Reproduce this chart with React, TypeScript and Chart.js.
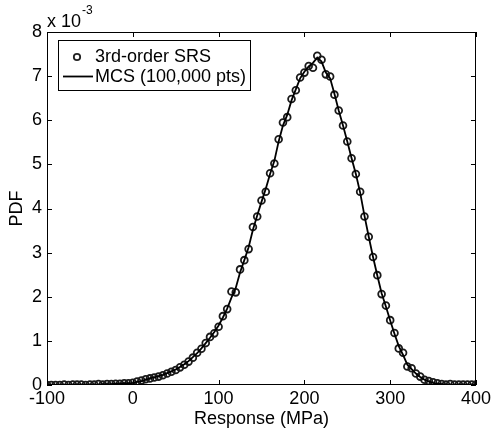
import React, { useEffect, useRef } from "react";
import { Chart, registerables } from "chart.js";

Chart.register(...registerables);

// Response values (MPa)
const xValues = [
  -100, -95, -90, -85, -80, -75, -70, -65, -60, -55, -50, -45, -40, -35, -30, -25, -20, -15, -10, -5,
  0, 5, 10, 15, 20, 25, 30, 35, 40, 45, 50, 55, 60, 65, 70, 75, 80, 85, 90, 95,
  100, 105, 110, 115, 120, 125, 130, 135, 140, 145, 150, 155, 160, 165, 170, 175, 180, 185, 190, 195,
  200, 205, 210, 215, 220, 225, 230, 235, 240, 245, 250, 255, 260, 265, 270, 275, 280, 285, 290, 295,
  300, 305, 310, 315, 320, 325, 330, 335, 340, 345, 350, 355, 360, 365, 370, 375, 380, 385, 390, 395, 400,
];

// 3rd-order SRS PDF (x 10^-3)
const srsValues = [
  0.00, 0.00, 0.00, 0.00, 0.01, 0.00, 0.01, 0.01, 0.01, 0.00, 0.01, 0.01, 0.02, 0.01, 0.02, 0.02, 0.03, 0.03, 0.04, 0.04,
  0.05, 0.08, 0.10, 0.13, 0.15, 0.17, 0.19, 0.22, 0.26, 0.30, 0.34, 0.40, 0.46, 0.53, 0.62, 0.73, 0.82, 0.95, 1.09, 1.17,
  1.32, 1.56, 1.72, 2.12, 2.10, 2.62, 2.83, 3.08, 3.58, 3.82, 4.18, 4.38, 4.80, 5.02, 5.57, 5.95, 6.07, 6.48, 6.68, 6.97,
  7.08, 7.23, 7.19, 7.46, 7.37, 7.04, 6.99, 6.58, 6.22, 5.88, 5.52, 5.14, 4.78, 4.38, 3.82, 3.36, 2.90, 2.49, 2.06, 1.80,
  1.47, 1.18, 0.83, 0.73, 0.42, 0.38, 0.26, 0.19, 0.12, 0.09, 0.06, 0.04, 0.02, 0.01, 0.02, 0.01, 0.01, 0.01, 0.01, 0.01, 0.01,
];

// MCS (100,000 pts) PDF (x 10^-3)
const mcsValues = [
  0.00, 0.00, 0.00, 0.00, 0.00, 0.00, 0.01, 0.01, 0.01, 0.01, 0.01, 0.01, 0.01, 0.02, 0.02, 0.02, 0.03, 0.03, 0.04, 0.04,
  0.05, 0.07, 0.09, 0.12, 0.15, 0.17, 0.20, 0.23, 0.27, 0.31, 0.35, 0.41, 0.47, 0.54, 0.63, 0.72, 0.83, 0.95, 1.07, 1.20,
  1.35, 1.53, 1.73, 1.98, 2.20, 2.55, 2.83, 3.12, 3.52, 3.84, 4.15, 4.45, 4.78, 5.08, 5.52, 5.88, 6.12, 6.45, 6.70, 6.95,
  7.10, 7.22, 7.30, 7.42, 7.33, 7.08, 6.95, 6.60, 6.22, 5.88, 5.52, 5.14, 4.78, 4.36, 3.84, 3.36, 2.90, 2.48, 2.08, 1.78,
  1.46, 1.16, 0.88, 0.68, 0.46, 0.36, 0.26, 0.18, 0.12, 0.08, 0.05, 0.03, 0.02, 0.01, 0.01, 0.01, 0.01, 0.01, 0.01, 0.01, 0.01,
];

const xTicks = [-100, 0, 100, 200, 300, 400];
const yTicks = [0, 1, 2, 3, 4, 5, 6, 7, 8];
const legendLabels = ["3rd-order SRS", "MCS (100,000 pts)"];
const FONT = "'Liberation Sans', Arial, Helvetica, sans-serif";

const framePlugin = {
  id: "frame",
  afterDraw(chart: any) {
    const { ctx, chartArea } = chart;
    const { left, right, top, bottom } = chartArea;
    const xs = chart.scales.x;
    const ys = chart.scales.y;
    ctx.save();
    ctx.strokeStyle = "#000";
    ctx.lineWidth = 1;
    ctx.strokeRect(Math.round(left) + 0.5, Math.round(top) + 0.5, Math.round(right - left) - 1, Math.round(bottom - top) - 1);
    const tl = 5;
    ctx.beginPath();
    xTicks.forEach((v) => {
      const px = Math.round(xs.getPixelForValue(v)) + 0.5;
      ctx.moveTo(px, bottom);
      ctx.lineTo(px, bottom - tl);
      ctx.moveTo(px, top);
      ctx.lineTo(px, top + tl);
    });
    yTicks.forEach((v) => {
      const py = Math.round(ys.getPixelForValue(v)) + 0.5;
      ctx.moveTo(left, py);
      ctx.lineTo(left + tl, py);
      ctx.moveTo(right, py);
      ctx.lineTo(right - tl, py);
    });
    ctx.stroke();

    // exponent label
    ctx.fillStyle = "#000";
    ctx.textBaseline = "alphabetic";
    ctx.textAlign = "left";
    ctx.font = `18px ${FONT}`;
    ctx.fillText("x 10", 47, 27);
    const w = ctx.measureText("x 10").width;
    ctx.font = `12px ${FONT}`;
    ctx.fillText("-3", 47 + w + 1, 14);

    // legend
    const lx = 58.5, ly = 40.5, lw = 192, lh = 50;
    ctx.fillStyle = "#fff";
    ctx.fillRect(lx, ly, lw, lh);
    ctx.strokeStyle = "#000";
    ctx.lineWidth = 1;
    ctx.strokeRect(lx, ly, lw, lh);
    ctx.strokeStyle = "#222";
    ctx.lineWidth = 1.8;
    ctx.beginPath();
    ctx.arc(77, 57, 3.2, 0, Math.PI * 2);
    ctx.stroke();
    ctx.strokeStyle = "#000";
    ctx.lineWidth = 1.8;
    ctx.beginPath();
    ctx.moveTo(63, 76.5);
    ctx.lineTo(93, 76.5);
    ctx.stroke();
    ctx.fillStyle = "#000";
    ctx.font = `18px ${FONT}`;
    ctx.textBaseline = "middle";
    ctx.fillText(legendLabels[0], 95, 57);
    ctx.fillText(legendLabels[1], 95, 77);
    ctx.restore();
  },
};

export default function App() {
  const ref = useRef<HTMLCanvasElement>(null);
  useEffect(() => {
    if (!ref.current) return;
    const chart = new Chart(ref.current, {
      type: "scatter",
      data: {
        datasets: [
          {
            label: legendLabels[1],
            data: xValues.map((x, i) => ({ x, y: mcsValues[i] })),
            showLine: true,
            borderColor: "#000",
            borderWidth: 1.8,
            pointRadius: 0,
            tension: 0,
          } as any,
          {
            label: legendLabels[0],
            data: xValues.map((x, i) => ({ x, y: srsValues[i] })),
            showLine: false,
            pointRadius: 3.4,
            pointBorderWidth: 1.8,
            pointBorderColor: "#1a1a1a",
            pointBackgroundColor: "rgba(0,0,0,0)",
          },
        ],
      },
      options: {
        animation: false,
        responsive: false,
        maintainAspectRatio: false,
        layout: { padding: { top: 32, right: 16, left: 0, bottom: 0 } },
        plugins: { legend: { display: false }, tooltip: { enabled: false } },
        scales: {
          x: {
            type: "linear",
            min: -100,
            max: 400,
            grid: { display: false, drawTicks: false },
            border: { display: false },
            ticks: {
              stepSize: 100,
              padding: 3,
              color: "#000",
              font: { family: FONT, size: 18 },
              maxRotation: 0,
            },
            title: {
              display: true,
              text: "Response (MPa)",
              color: "#000",
              font: { family: FONT, size: 18 },
              padding: { top: 2, bottom: 4 },
            },
            afterFit(scale: any) {
              scale.height = 49;
            },
          },
          y: {
            min: 0,
            max: 8,
            grid: { display: false, drawTicks: false },
            border: { display: false },
            ticks: {
              stepSize: 1,
              padding: 5,
              color: "#000",
              font: { family: FONT, size: 18 },
            },
            title: {
              display: true,
              text: "PDF",
              color: "#000",
              font: { family: FONT, size: 18 },
              padding: { top: 6, bottom: 0 },
            },
            afterFit(scale: any) {
              scale.width = 47;
            },
          },
        },
      },
      plugins: [framePlugin],
    });
    return () => chart.destroy();
  }, []);
  return (
    <div style={{ position: "fixed", left: 0, top: 0, width: 494, height: 434, background: "#fff" }}>
      <canvas ref={ref} width={494} height={434} style={{ width: 494, height: 434 }} />
    </div>
  );
}
